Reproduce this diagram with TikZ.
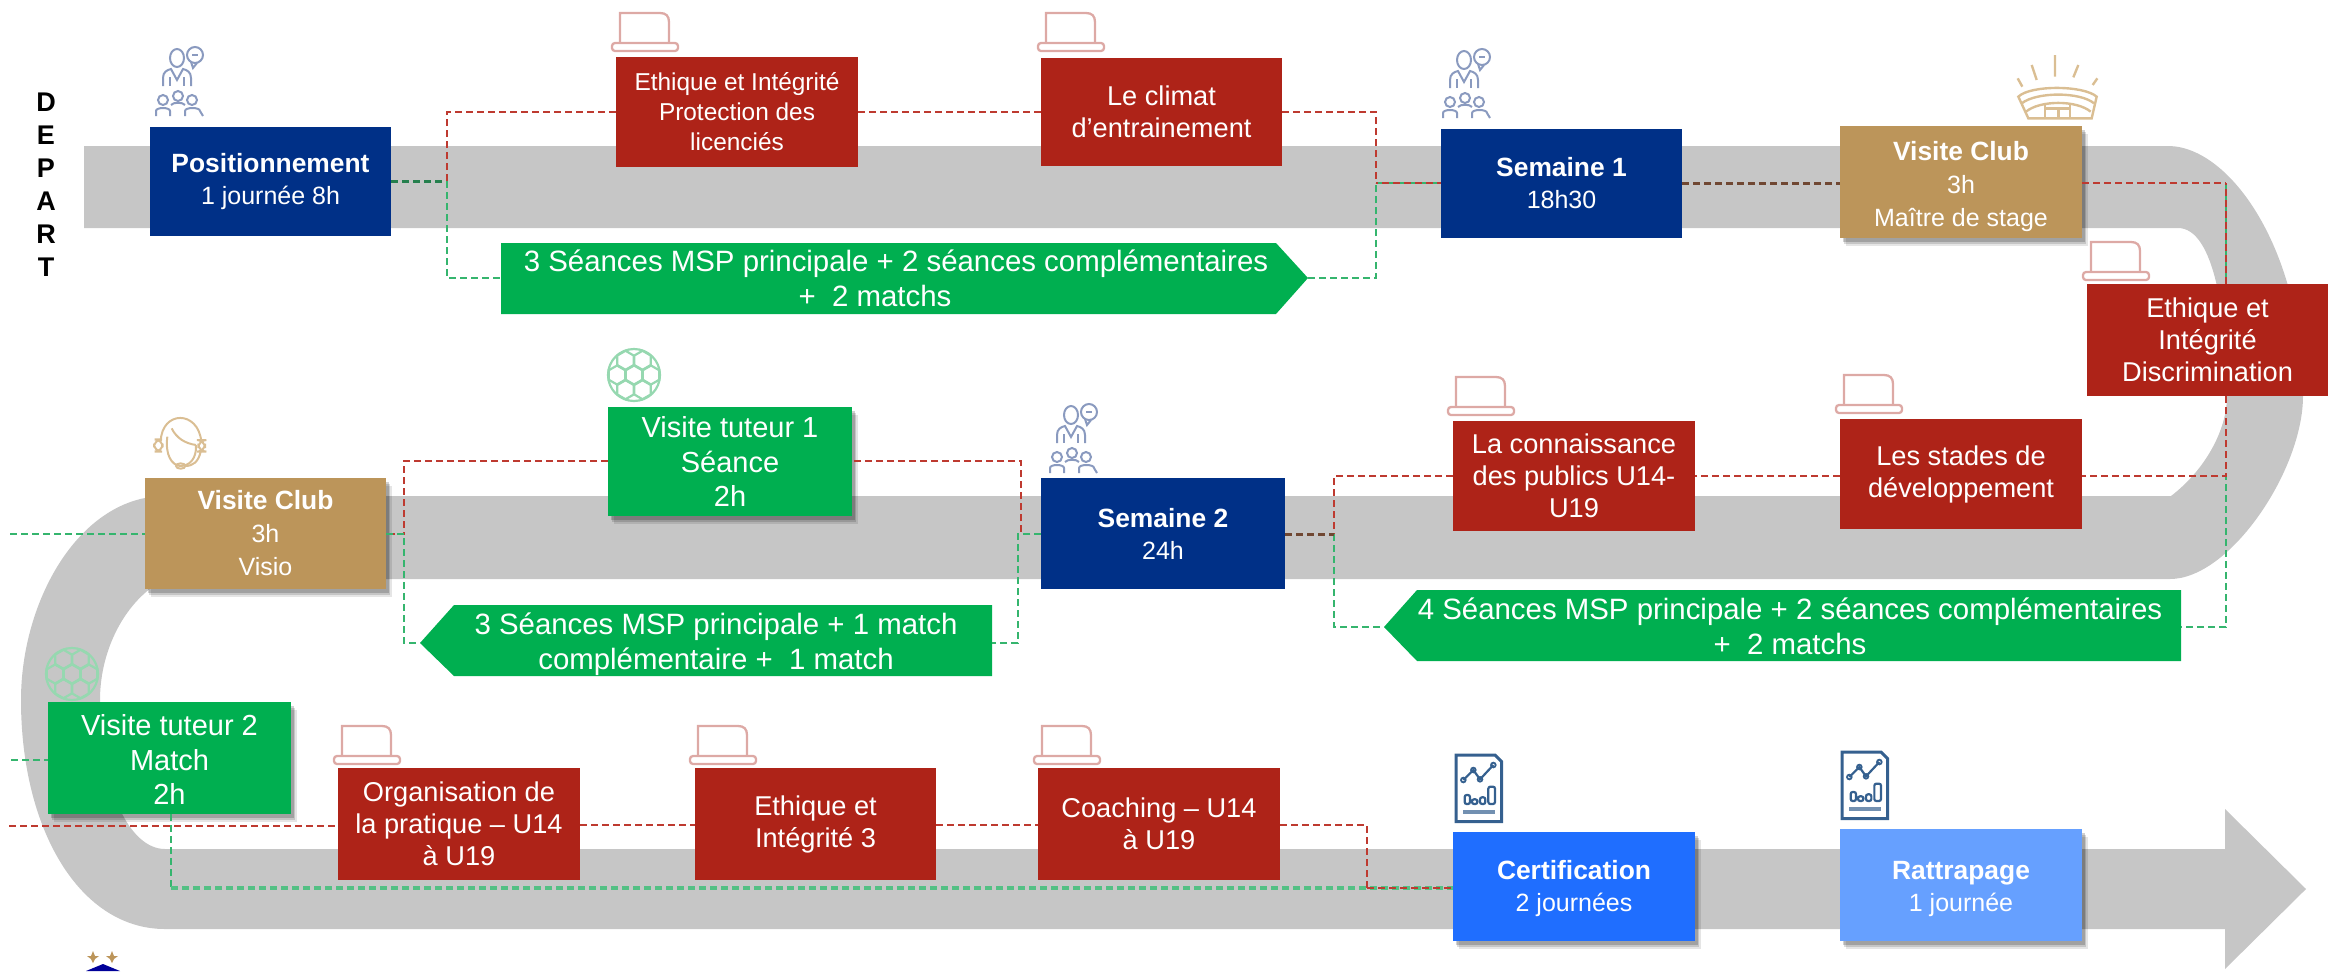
\documentclass[tikz,border=0pt]{standalone}
\usepackage{fontspec}
\setmainfont{Liberation Sans}
\usetikzlibrary{shadows,calc}
\definecolor{bandgrey}{HTML}{C6C6C6}
\definecolor{navy}{HTML}{003087}
\definecolor{brick}{HTML}{AE2318}
\definecolor{grass}{HTML}{00AF50}
\definecolor{gold}{HTML}{BC955A}
\definecolor{blueA}{HTML}{1F6EFF}
\definecolor{blueB}{HTML}{66A0FF}
\definecolor{linered}{HTML}{BE3A30}
\definecolor{linegreen}{HTML}{35B56E}
\definecolor{iconnavy}{HTML}{8A9ABF}
\definecolor{iconred}{HTML}{DDA9A5}
\definecolor{icongreen}{HTML}{96D8B0}
\definecolor{icongold}{HTML}{DABE93}
\definecolor{icondoc}{HTML}{35608F}
\newcommand{\boxtitle}[1]{{\bfseries\fontsize{13.2}{16}\selectfont #1}}
\newcommand{\boxsub}[1]{{\fontsize{12.5}{16}\selectfont #1}}
\newcommand{\bx}[7]{%
  \pgfmathsetmacro\bcx{(#2+#4)/2}\pgfmathsetmacro\bcy{(#3+#5)/2}%
  \pgfmathsetmacro\bwd{(#4-#2)/2}\pgfmathsetmacro\bht{(#5-#3)/2}%
  \node[#6,minimum width=\bwd pt,minimum height=\bht pt] (#1) at (\bcx,\bcy) {#7};}
\tikzset{
  card/.style={rectangle,inner sep=0pt,outer sep=0pt,align=center,text=white,font=\fontsize{13.6}{16}\selectfont},
  soft/.style={
    drop shadow={shadow xshift=3pt,shadow yshift=-4pt,fill=black,opacity=.10},
    drop shadow={shadow xshift=2.2pt,shadow yshift=-3pt,fill=black,opacity=.14},
    drop shadow={shadow xshift=1.4pt,shadow yshift=-2pt,fill=black,opacity=.18}},
  navycard/.style={card,fill=navy},
  redcard/.style={card,fill=brick},
  greencard/.style={card,fill=grass,font=\fontsize{14.5}{17.2}\selectfont},
  goldcard/.style={card,fill=gold},
  bluecard/.style={card,fill=blueA},
  paleblue/.style={card,fill=blueB},
  arrowtext/.style={inner sep=0pt,align=center,text=white,font=\fontsize{14.7}{17.5}\selectfont},
  redline/.style={draw=linered,line width=1.35pt,dash pattern=on 3.4pt off 2.1pt},
  greenline/.style={draw=linegreen,line width=1.35pt,dash pattern=on 3.4pt off 2.1pt},
  mixline/.style={draw=linered!70!linegreen!75!black,line width=1.5pt,dash pattern=on 3.4pt off 2.1pt},
  heavygreen/.style={draw=linegreen!85!white,line width=2pt,dash pattern=on 3.4pt off 2.1pt},
  pics/laptopicon/.style={code={
    \draw[iconred,line width=1.15pt] (8,33) -- (8,3) -- (48,3) .. controls (54,3) and (57,6) .. (57,12) -- (57,33);
    \draw[iconred,line width=1.15pt,rounded corners=1.5pt] (0,33) rectangle (66,41);}},
  pics/crowdicon/.style={code={
    \begin{scope}[iconnavy,line width=1pt]
    \draw (21,11) ellipse (7 and 9);
    \draw (39,8) circle (8); \draw (35,15) -- (37,21) -- (41,16); \draw (36,8) -- (42,8);
    \draw (7,39) -- (7,31) .. controls (7,25) and (11,23) .. (15,22) -- (21,33) -- (27,22) .. controls (31,23) and (35,25) .. (35,31) -- (35,39);
    \draw (14,30) -- (14,39) (28,30) -- (28,39);
    \draw (7,53) circle (5); \draw (22,49) circle (5); \draw (36,53) circle (5);
    \draw (0,69) -- (0,64) .. controls (0,60) and (14,60) .. (14,64) -- (14,69);
    \draw (15,58) .. controls (17,55) and (27,55) .. (29,58);
    \draw (29,69) -- (29,64) .. controls (29,60) and (44,60) .. (44,64) -- (47,69);
    \end{scope}}},
  pics/ballicon/.style={code={
    \begin{scope}[icongreen,line width=1.1pt]
    \draw (0,0) circle (26);
    \foreach \ca in {0,60,...,300}{
      \draw ($(0,0)+(\ca:17)+(30:9.5)$) -- ($(0,0)+(\ca:17)+(90:9.5)$) -- ($(0,0)+(\ca:17)+(150:9.5)$) -- ($(0,0)+(\ca:17)+(210:9.5)$) -- ($(0,0)+(\ca:17)+(270:9.5)$) -- ($(0,0)+(\ca:17)+(330:9.5)$) -- cycle;}
    \draw (30:9.5) -- (90:9.5) -- (150:9.5) -- (210:9.5) -- (270:9.5) -- (330:9.5) -- cycle;
    \end{scope}}},
  pics/docicon/.style={code={
    \begin{scope}[scale=1/3,icondoc]
    \draw[line width=1.5pt] (78,45) -- (195,45) -- (215,65) -- (215,245) -- (78,245) -- cycle;
    \draw[line width=1.1pt] (100,120) -- (130,90) -- (150,118) -- (190,75);
    \draw[line width=.9pt] (100,120) circle (7) (130,90) circle (7) (150,118) circle (7) (190,75) circle (7);
    \draw[line width=1.1pt,rounded corners=1pt] (104,165) rectangle (120,192) (126,178) rectangle (142,192) (150,172) rectangle (166,192) (175,140) rectangle (195,192);
    \draw[line width=2pt,icondoc!70!white] (100,215) -- (195,215);
    \end{scope}}},
  pics/stadiumicon/.style={code={
    \begin{scope}[scale=1/3,icongold,line width=1.2pt]
    \draw (195,45) -- (195,110) (125,75) -- (140,120) (265,75) -- (250,112) (83,115) -- (97,140) (322,115) -- (308,135);
    \draw (85,170) .. controls (120,135) and (280,135) .. (320,170) -- (305,235) -- (115,235) -- cycle;
    \draw (95,190) .. controls (140,155) and (270,155) .. (312,190);
    \draw (108,215) .. controls (150,180) and (260,180) .. (302,215);
    \draw (165,192) -- (165,235) (240,192) -- (240,235) (205,205) -- (205,235) (165,205) -- (240,205);
    \end{scope}}},
  pics/headseticon/.style={code={
    \begin{scope}[scale=1/3,icongold,line width=1pt]
    \draw (92,185) .. controls (95,90) and (205,90) .. (214,185);
    \draw (112,170) .. controls (105,225) and (125,255) .. (150,258) .. controls (180,258) and (200,235) .. (198,195);
    \draw (125,145) .. controls (140,175) and (165,190) .. (198,195);
    \draw[rounded corners=4pt] (72,178) rectangle (98,215);
    \draw[rounded corners=4pt] (205,180) rectangle (225,215);
    \draw (212,215) .. controls (205,245) and (190,258) .. (165,258);
    \draw (152,258) ellipse (14 and 8);
    \end{scope}}},
}
\begin{document}
\begin{tikzpicture}[x=0.5pt,y=-0.5pt]
\useasboundingbox (0,0) rectangle (2335,971);
% ribbon
\fill[bandgrey] (84,146) -- (2168,146) .. controls (2230,146) and (2303,250) .. (2303,396)
  .. controls (2303,470) and (2230,579) .. (2170,579) -- (165,579)
  .. controls (125,600) and (100,650) .. (100,700)
  .. controls (100,790) and (130,849) .. (165,849) -- (2225,849) -- (2225,809) -- (2306,889) -- (2225,969) -- (2225,929) -- (165,929)
  .. controls (80,929) and (21,830) .. (21,700)
  .. controls (21,600) and (80,496) .. (165,496) -- (2171,496)
  .. controls (2205,470) and (2227,430) .. (2227,396)
  .. controls (2227,320) and (2215,228) .. (2178,228) -- (84,228) -- cycle;
% green pennants
\fill[grass] (501,243) -- (1276,243) -- (1308,278) -- (1276,314) -- (501,314) -- cycle;
\fill[grass] (992,605) -- (454,605) -- (420,643) -- (454,676) -- (992,676) -- cycle;
\fill[grass] (2181,590) -- (1417,590) -- (1384,627) -- (1417,661) -- (2181,661) -- cycle;
% free ends and corners
\coordinate (a1tail) at (501,278); \coordinate (a1tip) at (1308,278);
\coordinate (a2tip) at (420,643);  \coordinate (a2tail) at (992,643);
\coordinate (a3tip) at (1384,627); \coordinate (a3tail) at (2181,627);
\coordinate (jA) at (447,181); \coordinate (jAup) at (447,112); \coordinate (jAdn) at (447,278);
\coordinate (jB) at (1376,183); \coordinate (jBup) at (1376,112); \coordinate (jBdn) at (1376,278);
\coordinate (jC) at (2226,183);
\coordinate (jD) at (2226,476); \coordinate (jDdn) at (2226,627);
\coordinate (jE) at (1334,534); \coordinate (jEup) at (1334,476); \coordinate (jEdn) at (1334,627);
\coordinate (jF) at (1021,534); \coordinate (jFup) at (1021,461); \coordinate (jFg) at (1018,534); \coordinate (jFdn) at (1018,643);
\coordinate (jG) at (404,534); \coordinate (jGup) at (404,461); \coordinate (jGdn) at (404,643);
\coordinate (endG) at (10,534); \coordinate (endT) at (11,760); \coordinate (endR) at (9,826);
\coordinate (jH) at (171,888); \coordinate (jI) at (1367,825); \coordinate (jIdn) at (1367,888);
% cards
\node[inner sep=0pt,align=center,font=\bfseries\fontsize{13.5}{16.5}\selectfont,text=black] (depart) at (46,185) {D\\E\\P\\A\\R\\T};
\bx{pos}{150}{127}{391}{236}{navycard}{\boxtitle{Positionnement}\\[-.4pt]\boxsub{1 journée 8h}}
\bx{eth}{616}{57}{858}{167}{redcard,font=\fontsize{12.2}{15}\selectfont}{Ethique et Intégrité\\Protection des\\licenciés}
\bx{clim}{1041}{58}{1282}{166}{redcard}{Le climat\\d'entrainement}
\bx{sem}{1441}{129}{1682}{238}{navycard}{\boxtitle{Semaine 1}\\\boxsub{18h30}}
\bx{vc}{1840}{126}{2082}{238}{goldcard,soft,font=\fontsize{13}{16.5}\selectfont}{\rule{0pt}{13.6pt}\boxtitle{Visite Club}\\\boxsub{3h}\\\boxsub{Maître de stage}}
\bx{disc}{2087}{284}{2328}{396}{redcard}{Ethique et\\Intégrité\\Discrimination}
\bx{stades}{1840}{419}{2082}{529}{redcard}{Les stades de\\développement}
\bx{conn}{1453}{421}{1695}{531}{redcard}{La connaissance\\des publics U14-\\U19}
\bx{sem2}{1041}{478}{1285}{589}{navycard}{\boxtitle{Semaine 2}\\\boxsub{24h}}
\bx{tut}{608}{407}{852}{516}{greencard,soft}{Visite tuteur 1\\Séance\\2h}
\bx{vc2}{145}{478}{386}{589}{goldcard,soft,font=\fontsize{13}{16.5}\selectfont}{\boxtitle{Visite Club}\\\boxsub{3h}\\\boxsub{Visio}}
\bx{tut2}{48}{702}{291}{814}{greencard,soft}{\rule{0pt}{12pt}Visite tuteur 2\\Match\\2h}
\bx{org}{338}{768}{580}{880}{redcard}{Organisation de\\la pratique – U14\\à U19}
\bx{eth3}{695}{768}{936}{880}{redcard}{Ethique et\\Intégrité 3}
\bx{coach}{1038}{768}{1280}{880}{redcard}{Coaching – U14\\à U19}
\bx{cert}{1453}{832}{1695}{941}{bluecard,soft}{\rule{0pt}{11.4pt}\boxtitle{Certification}\\\boxsub{2 journées}}
\bx{ratt}{1840}{829}{2082}{941}{paleblue,soft}{\rule{0pt}{12.6pt}\boxtitle{Rattrapage}\\\boxsub{1 journée}}
\node[arrowtext] (a1) at (896,278) {3 Séances MSP principale + 2 séances complémentaires\\+\ \ 2 matchs\hspace*{21pt}};
\node[arrowtext] (a2) at (716,644) {3 Séances MSP principale + 1 match\\complémentaire +\ \ 1 match};
\node[arrowtext] (a3) at (1790,626) {4 Séances MSP principale + 2 séances complémentaires\\+\ \ 2 matchs};
% connectors
\draw[linegreen!70!black,line width=1.5pt,dash pattern=on 3.4pt off 2.1pt] (pos.east |- jA) -- (jA);
\draw[redline] (jA) -- (jAup) -- (eth.west |- jAup);
\draw[greenline] (jA) -- (jAdn) -- (a1tail);
\draw[redline] (eth.east |- jAup) -- (clim.west |- jAup);
\draw[redline] (clim.east |- jBup) -- (jBup) -- (jB);
\draw[greenline] (a1tip) -- (jBdn) -- (jB);
\draw[greenline] (jB) -- (sem.west |- jB);
\draw[redline,dash phase=2.5pt] (jB) -- (sem.west |- jB);
\draw[greenline] (sem.east |- jB) -- (vc.west |- jB);
\draw[mixline] (sem.east |- jB) -- (vc.west |- jB);
\draw[redline] (vc.east |- jC) -- (jC);
\draw[greenline] (jC) -- (disc.north -| jC);
\draw[redline,dash phase=2.5pt] (jC) -- (disc.north -| jC);
\draw[greenline] (disc.south -| jD) -- (jDdn) -- (a3tail);
\draw[redline] (disc.south -| jD) -- (jD) -- (stades.east |- jD);
\draw[redline] (stades.west |- jD) -- (conn.east |- jD);
\draw[redline] (conn.west |- jEup) -- (jEup) -- (jE);
\draw[greenline] (jE) -- (jEdn) -- (a3tip);
\draw[mixline] (sem2.east |- jE) -- (jE);
\draw[redline] (sem2.west |- jF) -- (jF) -- (jFup) -- (tut.east |- jFup);
\draw[greenline] (sem2.west |- jF) -- (jFg) -- (jFdn) -- (a2tail);
\draw[redline] (tut.west |- jGup) -- (jGup) -- (jG) -- (vc2.east |- jG);
\draw[greenline] (vc2.east |- jG) -- (jG) -- (jGdn) -- (a2tip);
\draw[greenline] (endG) -- (vc2.west |- endG);
\draw[greenline] (endT) -- (tut2.west |- endT);
\draw[redline] (endR) -- (org.west |- endR);
\draw[redline] (org.east |- jI) -- (eth3.west |- jI);
\draw[redline] (eth3.east |- jI) -- (coach.west |- jI);
\draw[redline] (coach.east |- jI) -- (jI) -- (jIdn);
\draw[greenline] (tut2.south -| jH) -- (jH);
\draw[heavygreen] (jH) -- (cert.west |- jH);
\draw[redline] (jIdn) -- (cert.west |- jIdn);
% icons
\pic at (612,10) {laptopicon};
\pic at (1038,10) {laptopicon};
\pic at (2083,239) {laptopicon};
\pic at (1448,374) {laptopicon};
\pic at (1836,372) {laptopicon};
\pic at (334,723) {laptopicon};
\pic at (690,723) {laptopicon};
\pic at (1034,723) {laptopicon};
\pic at (156,47) {crowdicon};
\pic at (1443,49) {crowdicon};
\pic at (1050,404) {crowdicon};
\pic at (634,375) {ballicon};
\pic at (72,674) {ballicon};
\pic at (1430,740) {docicon};
\pic at (1816,737) {docicon};
\pic at (1990,40) {stadiumicon};
\pic at (130,380) {headseticon};
% crest at the lower edge
\fill[gold] (93,951) -- (95,956) -- (99,956) -- (95,959) -- (93,963) -- (91,959) -- (87,956) -- (91,956) -- cycle;
\fill[gold] (112,951) -- (114,956) -- (118,956) -- (114,959) -- (112,963) -- (110,959) -- (106,956) -- (110,956) -- cycle;
\fill[blue!60!black] (86,971) -- (103,964) -- (120,971) -- cycle;
\end{tikzpicture}
\end{document}
